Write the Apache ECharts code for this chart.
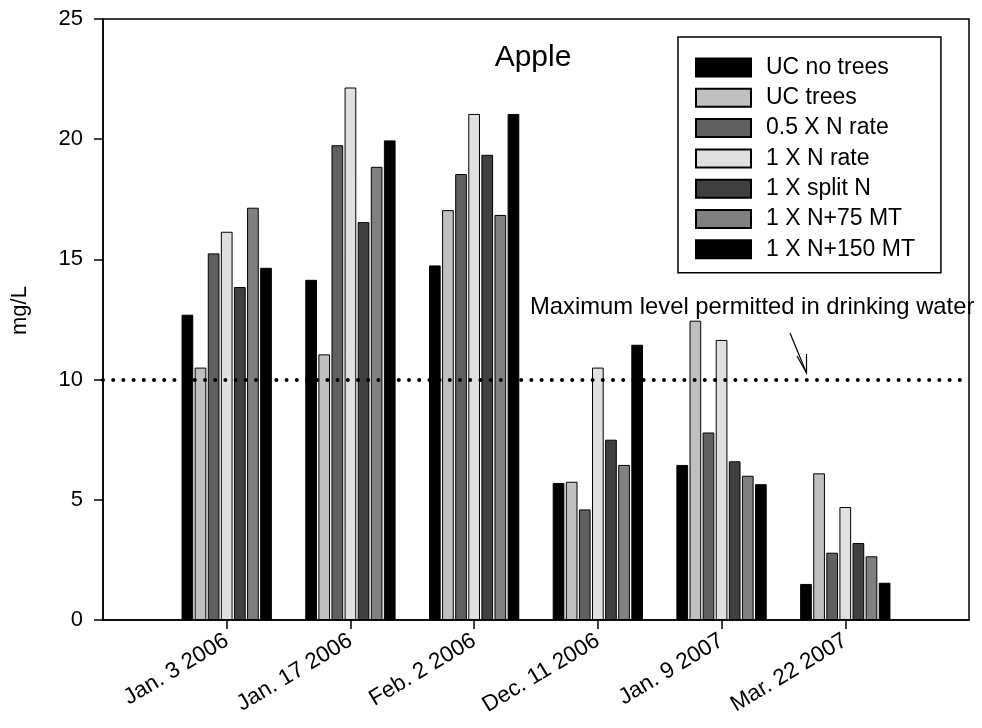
<!DOCTYPE html>
<html>
<head>
<meta charset="utf-8">
<script src="https://cdn.jsdelivr.net/npm/echarts@6/dist/echarts.min.js"></script>
<style>
  html, body { margin: 0; padding: 0; background: #fff; }
  #chart { width: 982px; height: 728px; }
</style>
</head>
<body>
<div id="chart"></div>
<script>
// sampling dates
var dates = ['Jan. 3 2006', 'Jan. 17 2006', 'Feb. 2 2006', 'Dec. 11 2006', 'Jan. 9 2007', 'Mar. 22 2007']
// treatments
var treatments = ['UC no trees', 'UC trees', '0.5 X N rate', '1 X N rate', '1 X split N', '1 X N+75 MT', '1 X N+150 MT']
// nitrate mg/L, one array per treatment
var ucNoTrees = [12.7, 14.15, 14.75, 5.7, 6.45, 1.5]
var ucTrees = [10.5, 11.05, 17.05, 5.75, 12.45, 6.1]
var halfN = [15.25, 19.75, 18.55, 4.6, 7.8, 2.8]
var oneN = [16.15, 22.15, 21.05, 10.5, 11.65, 4.7]
var splitN = [13.85, 16.55, 19.35, 7.5, 6.6, 3.2]
var n75 = [17.15, 18.85, 16.85, 6.45, 6.0, 2.65]
var n150 = [14.65, 19.95, 21.05, 11.45, 5.65, 1.55]
// limit for drinking water
var limit = 10
var yTicks = [0, 5, 10, 15, 20, 25]

var values = [ucNoTrees, ucTrees, halfN, oneN, splitN, n75, n150]
var colors = ['#000000', '#c0c0c0', '#606060', '#e0e0e0', '#404040', '#808080', '#000000']

// empty slot at both ends so the groups sit at 1..6 of a 0..7 axis
var cats = [''].concat(dates).concat([''])

var chart = echarts.init(document.getElementById('chart'))

var series = treatments.map(function (name, i) {
  var s = {
    name: name,
    type: 'bar',
    data: ['-'].concat(values[i]).concat(['-']),
    barGap: '12%',
    barCategoryGap: '27%',
    itemStyle: {
      color: colors[i],
      borderColor: '#000',
      borderWidth: 1
    }
  }
  if (i === 0) {
    s.markLine = {
      silent: true,
      symbol: 'none',
      z: 10,
      label: { show: false },
      lineStyle: {
        color: '#000',
        width: 4,
        type: [0, 10.2],
        cap: 'round'
      },
      data: [{ yAxis: limit }]
    }
  }
  return s
})

var option = {
  animation: false,
  backgroundColor: '#fff',
  textStyle: { fontFamily: 'Liberation Sans, Arial, sans-serif', color: '#000' },
  grid: {
    left: 103,
    right: 13,
    top: 19,
    bottom: 108,
    show: true,
    borderColor: '#000',
    borderWidth: 1.5,
    containLabel: false
  },
  legend: {
    orient: 'vertical',
    left: 678,
    top: 37,
    icon: 'rect',
    itemWidth: 55,
    itemHeight: 18,
    itemGap: 7.3,
    padding: [19, 26, 12, 17],
    borderColor: '#000',
    borderWidth: 1.5,
    backgroundColor: '#fff',
    selectedMode: false,
    textStyle: {
      fontSize: 23,
      color: '#000',
      padding: [0, 0, 0, 10]
    },
    data: treatments
  },
  xAxis: {
    type: 'category',
    data: cats,
    boundaryGap: false,
    axisLine: { lineStyle: { color: '#000', width: 1.5 } },
    axisTick: {
      length: 9,
      lineStyle: { color: '#000', width: 1.5 },
      interval: function (idx, val) { return val !== '' }
    },
    axisLabel: {
      rotate: 31,
      fontSize: 22.5,
      color: '#000',
      margin: 19,
      interval: 0
    },
    splitLine: { show: false }
  },
  yAxis: {
    type: 'value',
    min: yTicks[0],
    max: yTicks[yTicks.length - 1],
    interval: 5,
    name: 'mg/L',
    nameLocation: 'middle',
    nameRotate: 90,
    nameGap: 72,
    nameTextStyle: { fontSize: 22, color: '#000', padding: [0, 0, 0, 18] },
    axisLine: { show: true, lineStyle: { color: '#000', width: 1.5 } },
    axisTick: { show: true, length: 9, lineStyle: { color: '#000', width: 1.5 } },
    axisLabel: { fontSize: 22, color: '#000', margin: 20 },
    splitLine: { show: false }
  },
  graphic: [
    {
      type: 'text',
      x: 533,
      y: 58,
      z: 20,
      style: {
        text: 'Apple',
        font: '30px Liberation Sans, Arial, sans-serif',
        fill: '#000',
        align: 'center',
        verticalAlign: 'middle'
      }
    },
    {
      type: 'text',
      x: 530,
      y: 307,
      z: 20,
      style: {
        text: 'Maximum level permitted in drinking water',
        font: '23.8px Liberation Sans, Arial, sans-serif',
        fill: '#000',
        align: 'left',
        verticalAlign: 'middle'
      }
    },
    // arrow pointing at the limit line
    {
      type: 'polyline',
      z: 20,
      shape: { points: [[790, 333], [806.5, 373]] },
      style: { stroke: '#000', lineWidth: 1.2, fill: null }
    },
    {
      type: 'polyline',
      z: 20,
      shape: { points: [[797, 356], [806.5, 373], [806.5, 354]] },
      style: { stroke: '#000', lineWidth: 1.2, fill: null }
    }
  ],
  series: series
}

chart.setOption(option)
</script>
</body>
</html>
